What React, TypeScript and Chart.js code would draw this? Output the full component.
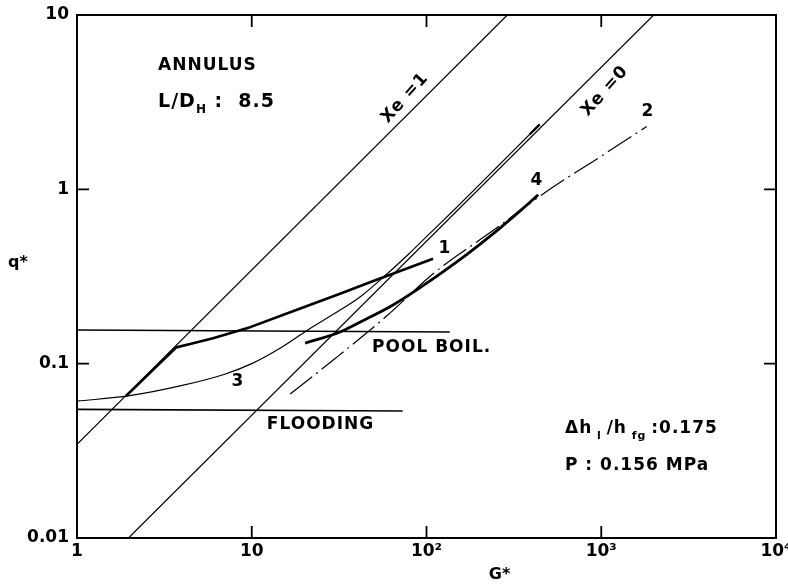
import React, { useEffect, useRef } from 'react';
import { Chart, registerables } from 'chart.js';

Chart.register(...registerables);

// ---- tick values / labels ----
const xTicks = [1, 10, 100, 1000, 10000];
const xTickLabels = ['1', '10', '10²', '10³', '10⁴'];
const yTicks = [0.01, 0.1, 1, 10];
const yTickLabels = ['0.01', '0.1', '1', '10'];

// ---- series (G*, q*) ----
const xe1G = [1, 290];
const xe1Q = [0.0345, 10];
const xe0G = [1.97, 1995];
const xe0Q = [0.01, 10];
const poolG = [1, 136];
const poolQ = [0.156, 0.152];
const floodG = [1, 73];
const floodQ = [0.0547, 0.0535];
const c1G = [1.9, 3.7, 4.5, 6, 9.8, 16.6, 32, 49.6, 109];
const c1Q = [0.065, 0.124, 0.13, 0.14, 0.162, 0.197, 0.252, 0.298, 0.4];
const c2G = [16.6, 30, 60, 110, 240, 500, 1000, 1820];
const c2Q = [0.067, 0.107, 0.19, 0.33, 0.58, 0.99, 1.55, 2.29];
const c3G = [1, 2, 4, 7, 10, 15, 20.7, 32, 42, 60, 80, 100, 150, 250, 390, 445];
const c3Q = [0.061, 0.0655, 0.075, 0.087, 0.1, 0.125, 0.155, 0.203, 0.243, 0.33, 0.43, 0.535, 0.795, 1.325, 2.07, 2.36];
const c4G = [20.2, 32, 45, 61.8, 88, 149, 252, 358, 436];
const c4Q = [0.131, 0.152, 0.18, 0.212, 0.265, 0.383, 0.578, 0.78, 0.93];

const pts = (g: number[], q: number[]) => g.map((v, i) => ({ x: v, y: q[i] }));

const FONT = '"DejaVu Sans", "Liberation Sans", Arial, sans-serif';

type Seg = { t: string; sub?: boolean };
type Note = { g: number; q: number; segs: Seg[]; align?: 'left' | 'center'; rot?: number; size?: number };

const notes: Note[] = [
  { g: 2.91, q: 5.16, segs: [{ t: 'ANNULUS' }] },
  { g: 2.91, q: 3.17, segs: [{ t: 'L/D' }, { t: 'H', sub: true }, { t: ' :  8.5' }], size: 19 },
  { g: 75.3, q: 3.34, segs: [{ t: 'Xe =1' }], align: 'center', rot: -48 },
  { g: 1050, q: 3.66, segs: [{ t: 'Xe =0' }], align: 'center', rot: -48 },
  { g: 127.6, q: 0.455, segs: [{ t: '1' }], align: 'center' },
  { g: 1852, q: 2.78, segs: [{ t: '2' }], align: 'center' },
  { g: 8.34, q: 0.0785, segs: [{ t: '3' }], align: 'center' },
  { g: 429, q: 1.116, segs: [{ t: '4' }], align: 'center' },
  { g: 48.8, q: 0.123, segs: [{ t: 'POOL BOIL.' }] },
  { g: 12.2, q: 0.0445, segs: [{ t: 'FLOODING' }] },
  { g: 620, q: 0.0422, segs: [{ t: 'Δh' }, { t: ' l ', sub: true }, { t: '/h' }, { t: ' fg ', sub: true }, { t: ':0.175' }] },
  { g: 620, q: 0.0259, segs: [{ t: 'P : 0.156 MPa' }] },
];

const framePlugin = {
  id: 'frame',
  afterDraw(chart: any) {
    const { ctx, chartArea: a, scales } = chart;
    const xs = scales.x;
    const ys = scales.y;
    ctx.save();
    ctx.strokeStyle = '#000';
    ctx.lineWidth = 2;
    ctx.strokeRect(a.left, a.top, a.right - a.left, a.bottom - a.top);
    const tl = 12;
    ctx.lineWidth = 1.8;
    ctx.beginPath();
    xTicks.slice(1, -1).forEach((v) => {
      const p = xs.getPixelForValue(v);
      ctx.moveTo(p, a.bottom);
      ctx.lineTo(p, a.bottom - tl);
      ctx.moveTo(p, a.top);
      ctx.lineTo(p, a.top + tl);
    });
    yTicks.slice(1, -1).forEach((v) => {
      const p = ys.getPixelForValue(v);
      ctx.moveTo(a.left, p);
      ctx.lineTo(a.left + tl, p);
      ctx.moveTo(a.right, p);
      ctx.lineTo(a.right - tl, p);
    });
    ctx.stroke();

    // notes
    ctx.fillStyle = '#000';
    ctx.textBaseline = 'middle';
    notes.forEach((n) => {
      const size = n.size || 17;
      const subSize = Math.round(size * 0.65);
      const x = xs.getPixelForValue(n.g);
      const y = ys.getPixelForValue(n.q);
      ctx.save();
      ctx.translate(x, y);
      if (n.rot) ctx.rotate((n.rot * Math.PI) / 180);
      (ctx as any).letterSpacing = '1px';
      let total = 0;
      n.segs.forEach((s) => {
        ctx.font = `bold ${s.sub ? subSize : size}px ${FONT}`;
        total += ctx.measureText(s.t).width;
      });
      let cx = n.align === 'center' ? -total / 2 : 0;
      ctx.textAlign = 'left';
      n.segs.forEach((s) => {
        ctx.font = `bold ${s.sub ? subSize : size}px ${FONT}`;
        ctx.fillText(s.t, cx, s.sub ? Math.round(size * 0.42) : 0);
        cx += ctx.measureText(s.t).width;
      });
      ctx.restore();
    });

    // axis titles
    ctx.font = `bold 16px ${FONT}`;
    ctx.textAlign = 'center';
    ctx.fillText('q*', a.left - 59, (a.top + a.bottom) / 2 - 14);
    ctx.fillText('G*', (a.left + a.right) / 2 + 73, a.bottom + 37);
    ctx.restore();
  },
};

export default function App() {
  const ref = useRef<HTMLCanvasElement | null>(null);
  useEffect(() => {
    document.body.style.margin = '0';
    const thin = 1.2;
    const thick = 2.6;
    const base = { pointRadius: 0, borderColor: '#000', fill: false, showLine: true };
    const chart = new Chart(ref.current as HTMLCanvasElement, {
      type: 'line',
      data: {
        datasets: [
          { ...base, label: 'Xe=1', data: pts(xe1G, xe1Q), borderWidth: thin },
          { ...base, label: 'Xe=0', data: pts(xe0G, xe0Q), borderWidth: thin },
          { ...base, label: 'Pool boil', data: pts(poolG, poolQ), borderWidth: 1.5 },
          { ...base, label: 'Flooding', data: pts(floodG, floodQ), borderWidth: 1.6 },
          { ...base, label: '1', data: pts(c1G, c1Q), borderWidth: thick, tension: 0, borderJoinStyle: 'round' },
          {
            ...base,
            label: '2',
            data: pts(c2G, c2Q),
            borderWidth: thin,
            borderDash: [28, 5, 2, 5],
            cubicInterpolationMode: 'monotone',
          },
          {
            ...base,
            label: '3',
            data: pts(c3G, c3Q),
            borderWidth: thin,
            cubicInterpolationMode: 'monotone',
            segment: {
              borderWidth: (c: any) => (c.p1DataIndex === c3G.length - 1 ? 2.4 : thin),
            },
          },
          { ...base, label: '4', data: pts(c4G, c4Q), borderWidth: 2.8, cubicInterpolationMode: 'monotone' },
        ] as any,
      },
      options: {
        animation: false,
        responsive: false,
        devicePixelRatio: 1,
        layout: { padding: { left: 0, top: 15, right: 12, bottom: 0 } },
        plugins: { legend: { display: false }, tooltip: { enabled: false } },
        scales: {
          x: {
            type: 'logarithmic',
            min: 1,
            max: 10000,
            grid: { display: false, drawTicks: false, tickLength: 0 },
            border: { display: false },
            afterBuildTicks: (s: any) => {
              s.ticks = xTicks.map((v) => ({ value: v }));
            },
            afterFit: (s: any) => {
              s.height = 48;
              s.paddingLeft = 0;
              s.paddingRight = 0;
            },
            ticks: {
              autoSkip: false,
              maxRotation: 0,
              padding: 3,
              color: '#000',
              font: { family: FONT, size: 17, weight: 'bold' },
              callback: (_v: any, i: number) => xTickLabels[i],
            },
          },
          y: {
            type: 'logarithmic',
            min: 0.01,
            max: 10,
            grid: { display: false, drawTicks: false, tickLength: 0 },
            border: { display: false },
            afterBuildTicks: (s: any) => {
              s.ticks = yTicks.map((v) => ({ value: v }));
            },
            afterFit: (s: any) => {
              s.width = 77;
              s.paddingTop = 0;
              s.paddingBottom = 0;
            },
            ticks: {
              autoSkip: false,
              padding: 8,
              color: '#000',
              font: { family: FONT, size: 17, weight: 'bold' },
              callback: (_v: any, i: number) => yTickLabels[i],
            },
          },
        },
      } as any,
      plugins: [framePlugin],
    });
    return () => chart.destroy();
  }, []);
  return (
    <div style={{ position: 'absolute', left: 0, top: 0, width: 788, height: 586, background: '#fff' }}>
      <canvas ref={ref} width={788} height={586} />
    </div>
  );
}
